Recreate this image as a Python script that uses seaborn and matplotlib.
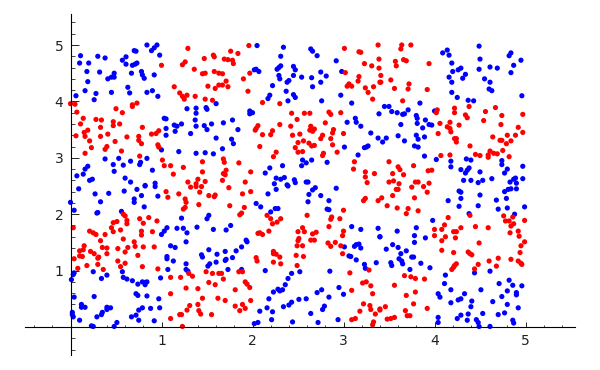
import matplotlib
matplotlib.use("Agg")
import matplotlib.pyplot as plt
from matplotlib.ticker import MultipleLocator
import pandas as pd
import seaborn as sns

# points, (x, y)
blue_pts = [
(.11,4.81),(.10,4.68),(.20,4.68),(.30,4.80),(.38,4.77),(.18,4.53),(.32,4.52),(.41,4.40),(.45,4.43),(.48,4.50),
(.48,4.43),(.19,4.35),(.16,4.19),(.28,4.14),(.06,4.10),(.26,4.03),(.45,4.16),(.57,4.73),(.61,4.79),(.61,4.66),
(.70,4.90),(.72,4.89),(.84,5.0),(.89,4.90),(.92,4.95),(.95,5.0),(.98,4.82),(.68,4.64),(.71,4.66),(.73,4.68),
(.67,4.50),(.78,4.53),(.79,4.47),(.81,4.41),(.92,4.47),(.63,4.25),(.65,4.15),(.84,4.16),(.90,4.19),(.96,4.09),
(1.28,3.87),(1.38,3.88),(1.38,3.79),(1.49,3.89),(1.50,3.86),(1.37,3.67),(1.38,3.56),(1.47,3.57),(1.50,3.50),(1.55,3.60),
(1.32,3.43),(1.60,3.96),(1.60,3.35),(1.03,3.70),(1.05,3.69),(1.05,3.52),(1.05,3.40),(1.14,3.58),(1.17,3.56),(1.15,3.47),
(1.22,3.60),(1.00,3.14),(1.19,3.11),(1.38,3.08),(1.48,3.09),(1.57,3.07),(.38,2.98),(.53,2.99),(.47,2.88),(.58,2.87),
(.66,2.94),(.77,2.92),(.76,2.88),(.84,2.99),(.48,2.76),(.90,2.78),(.19,2.85),(.16,2.80),(.14,2.71),(.07,2.68),
(.24,2.62),(.21,2.60),(.60,2.64),(.66,2.57),(.93,2.55),(.82,2.51),
(.09,2.45),(.27,2.36),(.42,2.37),(.33,2.22),(0.0,2.21),(.04,2.07),(.30,2.03),(.29,2.02),(.59,2.41),(.73,2.44),
(.82,2.50),(.93,2.49),(.96,2.32),(.78,2.33),(.70,2.27),(.70,2.21),(.81,2.13),(.56,2.05),(1.22,1.93),(1.50,1.92),
(1.52,1.98),(1.39,1.77),(1.57,1.73),(1.06,1.76),(1.03,1.70),(1.00,1.64),(1.17,1.75),(1.24,1.75),(1.28,1.67),(1.27,1.51),
(1.10,1.44),(1.15,1.41),(1.52,1.37),(1.44,1.28),(1.45,1.24),(1.61,1.29),(1.06,1.25),(1.06,1.21),(1.13,1.17),(1.07,1.02),
(1.27,1.12),(1.27,1.02),(1.29,.99),(1.53,1.12),(1.51,1.08),(1.60,1.15),(.04,.96),(.03,.93),(.01,.84),(.25,.98),
(.40,.92),(.34,.86),(.57,.98),(.58,.88),(.62,.85),(.68,.82),(.74,.76),(.79,.80),(.82,.79),(.84,.80),
(.82,.75),(.99,.87),(.04,.53),(.26,.54),(.72,.59),(.74,.56),(.84,.55),(.97,.50),(.12,.40),(.12,.35),
(.16,.35),(.40,.35),(.44,.34),(.40,.31),(.35,.26),(.34,.22),(.29,.18),(.02,.26),(.02,.22),(.03,.18),
(.10,.12),(.23,.02),(.25,.01),(.51,.08),(.48,.01),(.67,.18),(.72,.21),(.75,.30),(.79,.34),(.88,.33),
(.98,.34),(.75,.12),(.92,.11),
(2.05,4.99),(2.34,4.96),(2.31,4.80),(2.64,4.93),(2.66,4.89),(2.71,4.81),(2.92,4.72),(2.31,4.63),(2.29,4.60),(2.27,4.57),
(2.02,4.56),(2.04,4.57),(2.07,4.53),(2.45,4.62),(2.47,4.56),(2.45,4.46),(2.29,4.46),(2.30,4.40),(2.54,4.43),(2.40,4.37),
(2.38,4.34),(2.65,4.42),(2.75,4.52),(2.81,4.45),(2.75,4.34),(2.66,4.26),(2.98,4.53),(2.22,4.28),(2.37,4.18),(2.45,4.12),
(2.47,4.07),(2.19,4.11),(2.17,4.05),(2.39,4.01),(2.76,4.01),(2.97,4.11),(3.09,3.97),(1.97,3.83),(1.97,3.78),(2.0,3.80),
(1.78,3.67),(1.68,3.62),(1.84,3.50),(1.77,3.33),(1.79,3.25),(1.67,3.16),(3.04,3.63),(3.13,3.70),(3.14,3.63),(3.19,3.56),
(3.39,3.78),(3.30,3.44),(3.38,3.35),(3.01,3.19),(3.23,3.18),(3.27,3.21),(3.25,3.19),(3.16,3.05),(2.55,2.96),(2.59,2.91),
(2.65,2.96),(2.54,2.86),(2.82,2.92),(2.33,2.86),(2.19,2.82),(2.14,2.73),(2.26,2.64),(2.31,2.62),(2.35,2.65),(2.24,2.54),
(2.38,2.52),(2.46,2.61),(2.47,2.56),(2.59,2.57),(2.61,2.57),
(2.26,2.44),(2.17,2.36),(2.39,2.50),(2.69,2.47),(2.66,2.43),(2.62,2.35),(2.75,2.33),(2.61,2.22),(2.92,2.46),(2.84,2.24),
(2.82,2.09),(2.84,2.08),(2.04,2.19),(2.09,2.13),(2.20,2.04),(2.25,2.10),(2.28,2.10),(1.76,1.80),(1.71,1.72),(1.93,1.54),
(1.94,1.51),(1.88,1.42),(1.82,1.35),(1.78,1.23),(1.70,1.34),(1.71,1.20),(1.70,1.18),(1.73,1.02),(1.88,1.02),(2.14,1.0),
(2.52,.98),(2.43,.95),(2.39,.86),(2.36,.75),(2.33,.66),(2.28,.67),(2.30,.64),(2.23,.62),(2.18,.50),(2.85,.99),
(3.09,1.78),(3.19,1.73),(3.38,1.75),(3.40,1.60),(3.01,1.42),(3.12,1.43),(3.14,1.46),(3.17,1.47),(3.19,1.40),(3.06,1.26),
(3.08,1.25),(3.14,1.19),(3.23,1.11),(3.24,1.04),(3.36,1.14),(2.95,.70),(3.0,.58),(2.76,.66),(2.71,.61),(2.84,.53),
(2.51,.49),(2.59,.50),(2.43,.44),(2.40,.39),(2.34,.36),(2.16,.34),(2.22,.27),(2.08,.28),(2.21,.13),(2.06,.08),
(2.02,.06),(2.44,.09),(2.64,.24),(2.77,.31),(2.79,.37),(2.72,.08),(2.94,.13),
(4.49,4.98),(4.09,4.86),(4.14,4.91),(4.16,4.82),(4.50,4.75),(4.84,4.86),(4.82,4.81),(4.95,4.73),(4.19,4.68),(4.87,4.64),
(4.49,4.57),(4.61,4.61),(4.69,4.59),(4.84,4.51),(4.29,4.59),(4.26,4.56),(4.20,4.53),(4.34,4.48),(4.31,4.41),(4.16,4.43),
(4.19,4.34),(4.55,4.40),(4.61,4.34),(4.60,4.22),(4.63,4.19),(4.19,4.16),(4.25,4.07),(4.37,4.02),(4.43,4.01),(4.96,4.10),
(3.84,3.97),(3.45,3.91),(3.50,3.91),(3.53,3.82),(3.59,3.80),(3.65,3.77),(3.67,3.78),(3.71,3.85),(4.0,3.83),(3.80,3.75),
(3.81,3.70),(3.81,3.61),(3.90,3.67),(3.94,3.59),(3.97,3.58),(3.87,3.53),(3.63,3.59),(3.60,3.39),(3.47,3.35),(3.43,3.28),
(3.67,3.30),(3.80,3.40),(3.82,3.33),(3.89,3.37),(3.78,3.21),(3.82,3.19),(3.89,3.03),(4.02,2.97),(4.18,2.94),(4.18,2.84),
(4.35,2.98),(4.40,2.96),(4.74,2.95),(4.74,2.88),(4.97,2.85),(4.38,2.82),(4.36,2.78),(4.34,2.73),(4.29,2.79),(4.50,2.75),
(4.80,2.80),(4.77,2.73),(4.63,2.63),(4.97,2.63),(4.89,2.64),(4.87,2.62),(4.83,2.57),(4.53,2.60),(4.48,2.56),(4.40,2.60),
(4.32,2.60),(4.90,2.55),
(4.27,2.41),(4.29,2.39),(4.29,2.28),(4.15,2.24),(4.27,2.14),(4.50,2.34),(4.48,2.15),(4.38,2.01),(4.68,2.25),(4.77,2.40),
(4.81,2.44),(4.84,2.45),(4.90,2.45),(4.79,2.28),(4.70,2.09),(4.80,2.11),(4.99,2.13),(4.88,2.0),(3.98,1.89),(3.80,1.76),
(3.59,1.70),(3.78,1.62),(3.90,1.58),(3.40,1.60),(3.78,1.50),(3.54,1.46),(3.60,1.41),(3.47,1.38),(3.69,1.35),(3.63,1.30),
(3.61,1.21),(3.64,1.17),(3.65,1.12),(3.52,1.14),(3.53,1.09),(3.75,1.24),(3.77,1.24),(3.85,1.13),(3.95,1.05),(3.73,1.02),
(4.12,.92),(4.44,.96),(4.61,.99),(4.11,.77),(4.18,.66),(4.51,.66),(4.04,.59),(4.06,.53),(4.33,.59),(4.71,.77),
(4.82,.83),(4.86,.74),(4.96,.73),(4.80,.64),(4.90,.61),(4.90,.57),(4.74,.54),(4.64,.45),(4.80,.40),(4.41,.46),
(4.40,.36),(4.18,.43),(4.26,.48),(4.29,.50),(4.92,.34),(4.53,.24),(4.37,.23),(4.70,.22),(4.77,.25),(4.29,.21),
(4.25,.15),(4.36,.12),(4.04,.17),(4.04,.08),(4.46,.13),(4.48,.08),(4.49,.01),(4.61,.01),(4.86,.12),(4.87,.07),
]

red_pts = [
(1.29,4.94),(1.26,4.70),(1.23,4.65),(1.36,4.57),(1.47,4.76),(1.57,4.82),(1.58,4.79),(1.00,4.64),(1.45,4.49),(1.48,4.50),
(1.58,4.53),(1.63,4.50),(1.14,4.26),(1.20,4.15),(1.23,4.09),(1.25,4.04),(1.28,4.11),(1.37,4.09),(1.48,4.04),(1.51,4.27),
(1.59,4.23),(1.63,4.29),(1.56,4.02),(0.0,3.96),(.05,3.95),(.07,3.81),(.14,3.70),(.11,3.60),(.28,3.68),(.34,3.67),
(.33,3.54),(.19,3.49),(.15,3.45),(.16,3.38),(.06,3.39),(.21,3.30),(.23,3.18),(.33,3.38),(.41,3.42),(.47,3.64),
(.47,3.57),(.54,3.60),(.50,3.87),(.57,3.80),(.68,3.94),(.68,3.91),(.73,3.97),(.79,3.54),(.62,3.37),(.75,3.38),
(.75,3.31),(.78,3.25),(.49,3.29),(.40,3.20),(.38,3.15),(.56,3.12),(.16,3.08),(.76,3.03),(.89,3.42),(.94,3.43),
(.97,3.48),(.96,3.23),(.97,3.19),(1.01,2.96),(1.03,2.86),(1.10,2.86),(1.24,2.83),(1.13,2.71),(1.45,2.93),(1.45,2.75),
(1.40,2.62),(1.29,2.57),(1.48,2.58),(1.38,2.54),
(1.05,2.40),(1.07,2.30),(1.19,2.36),(1.26,2.27),(1.27,2.21),(1.26,2.12),(1.24,2.09),(1.41,2.17),(1.32,2.48),(1.38,2.49),
(1.44,2.49),(1.42,2.39),(1.52,2.33),(1.58,2.31),(1.59,2.34),(.03,1.76),(.21,1.70),(.25,1.67),(.28,1.64),(.38,1.64),
(.33,1.53),(.35,1.41),(.40,1.40),(.40,1.30),(.15,1.44),(.14,1.37),(.10,1.35),(.22,1.34),(.26,1.30),(.31,1.24),
(.30,1.22),(.10,1.26),(.13,1.25),(.04,1.21),(.18,1.09),(.30,1.11),(.36,1.02),(.08,1.04),(.45,1.76),(.47,1.85),
(.51,1.87),(.47,1.69),(.55,1.72),(.58,2.00),(.60,1.97),(.62,1.89),(.62,1.83),(.76,1.92),(.80,1.84),(.86,1.94),
(.95,1.88),(.78,1.70),(.78,1.63),(.90,1.69),(.58,1.56),(.70,1.51),(.71,1.43),(.63,1.41),(.52,1.39),(.60,1.33),
(.80,1.42),(.92,1.42),(.74,1.27),(.52,1.17),(.60,1.13),(.55,1.07),(.79,1.07),(.96,1.03),(1.10,.88),(1.21,.88),
(1.30,.95),(1.34,.90),(1.49,.98),(1.56,.95),(1.63,.95),(1.52,.79),(1.59,.75),(1.27,.69),(1.40,.68),(1.10,.59),
(1.45,.51),(1.62,.51),(1.31,.38),(1.40,.40),(1.28,.30),(1.22,.22),(1.20,.22),(1.10,.15),(1.23,.01),(1.41,.29),
(1.43,.23),(1.55,.22),
(1.96,4.99),(1.76,4.89),(1.84,4.85),(1.69,4.75),(1.73,4.74),(1.78,4.73),(1.79,4.67),(1.67,4.49),(1.71,4.36),(1.67,4.29),
(1.73,4.26),(1.97,4.50),(1.90,4.40),(1.95,4.18),(2.11,3.98),(2.30,3.96),(3.01,4.94),(3.38,5.0),(3.17,4.88),(3.19,4.87),
(3.23,4.67),(3.31,4.63),(3.39,4.75),(3.39,4.59),(3.02,4.51),(3.17,4.44),(3.16,4.36),(3.06,4.31),(3.04,4.27),(3.09,4.27),
(3.24,4.24),(3.33,4.26),(3.40,4.34),(3.27,4.16),(3.32,4.04),(2.43,3.79),(2.57,3.79),(2.63,3.79),(2.49,3.68),(2.84,3.81),
(2.86,3.77),(2.97,3.80),(2.80,3.62),(2.30,3.59),(2.42,3.56),(2.06,3.57),(2.04,3.52),(2.03,3.49),(2.22,3.48),(2.20,3.41),
(2.11,3.41),(2.44,3.40),(2.52,3.42),(2.64,3.56),(2.63,3.49),(2.66,3.47),(2.68,3.51),(2.89,3.50),(2.88,3.44),(2.77,3.40),
(2.75,3.34),(2.86,3.34),(3.0,3.43),(2.50,3.27),(2.56,3.30),(2.62,3.26),(2.65,3.21),(2.68,3.22),(2.88,3.23),(2.47,3.18),
(2.50,3.10),(2.55,3.11),(2.08,3.20),(2.26,3.10),(2.23,3.02),(2.78,3.08),(2.77,3.04),(2.93,3.10),(1.68,2.98),(1.69,2.92),
(1.85,2.91),(3.12,2.93),(3.11,2.80),(1.98,2.75),(1.71,2.78),(1.68,2.72),(1.70,2.70),(1.67,2.60),(1.92,2.57),(3.24,2.75),
(3.34,2.72),(3.24,2.66),(3.26,2.56),
(1.74,2.47),(1.89,2.36),(1.98,2.40),(1.75,2.15),(1.91,2.12),(1.88,2.02),(1.86,1.99),(2.16,1.98),(2.20,1.92),(2.31,1.92),
(2.27,1.86),(2.22,1.83),(2.18,1.70),(2.06,1.66),(2.08,1.67),(2.11,1.64),(2.60,1.98),(2.55,1.76),(2.57,1.69),(2.50,1.69),
(2.70,1.68),(2.66,1.65),(2.51,1.57),(2.50,1.53),(2.64,1.54),(2.68,1.54),(2.49,1.44),(2.55,1.44),(2.48,1.27),(2.56,1.25),
(2.49,1.09),(2.23,1.34),(2.23,1.30),(2.26,1.29),(2.30,1.24),(2.23,1.15),(2.31,1.12),(2.04,1.23),(2.05,1.17),(1.85,.98),
(1.89,.98),(1.66,.95),(1.68,.85),(1.92,.80),(1.94,.76),(1.97,.70),(1.81,.66),(1.70,.47),(1.98,.47),(1.81,.37),
(1.89,.40),(1.92,.33),(1.86,.29),(3.24,2.28),(3.22,2.24),(3.38,2.24),(3.0,2.07),(2.87,1.95),(2.86,1.91),(2.96,1.92),
(2.84,1.78),(3.0,1.70),(2.99,1.62),(2.83,1.49),(2.86,1.43),(2.91,1.50),(2.97,1.44),(2.99,1.30),(3.07,.96),(3.28,1.01),
(3.21,.78),(3.25,.80),(3.30,.73),(3.09,.65),(3.32,.59),(3.22,.41),(3.29,.38),(3.30,.31),(3.18,.28),(3.35,.23),
(3.13,.15),(3.09,.13),(3.33,.09),(3.32,.04),(3.40,.32),
(3.74,5.0),(3.64,5.0),(3.63,4.93),(3.57,4.71),(3.58,4.63),(3.66,4.74),(3.69,4.72),(3.94,4.67),(3.52,4.38),(3.41,4.46),
(3.41,4.34),(3.72,4.31),(3.71,4.22),(3.56,4.23),(3.92,4.21),(3.65,4.01),(4.03,3.85),(4.02,3.80),(4.22,3.88),(4.22,3.80),
(4.38,3.91),(4.34,3.76),(4.36,3.71),(4.56,3.82),(4.67,3.89),(4.54,3.66),(4.74,3.75),(4.97,3.77),(4.73,3.59),(4.92,3.54),
(4.97,3.45),(4.06,3.61),(4.17,3.63),(4.14,3.55),(4.17,3.52),(4.18,3.46),(4.27,3.58),(4.04,3.43),(4.22,3.34),(4.24,3.34),
(4.24,3.28),(4.64,3.37),(4.72,3.31),(4.74,3.31),(4.80,3.40),(4.89,3.40),(4.84,3.30),(4.79,3.25),(4.39,3.21),(4.75,3.13),
(4.61,3.12),(4.65,3.08),(4.69,3.07),(4.59,3.05),(4.59,3.01),(4.45,3.06),(4.50,3.04),(4.82,3.02),(4.17,3.05),(4.07,3.04),
(3.50,2.93),(3.77,2.86),(3.60,2.84),(3.62,2.79),(3.66,2.70),(3.54,2.72),(3.93,2.77),(3.97,2.78),(3.55,2.59),(3.50,2.57),
(3.61,2.54),(3.79,2.57),(3.82,2.57),(3.94,2.55),
(3.58,2.44),(3.60,2.44),(3.75,2.48),(3.88,2.49),(3.92,2.39),(3.42,2.29),(3.54,2.33),(3.78,2.29),(3.48,2.15),(3.59,2.11),
(3.71,2.10),(3.69,2.01),(3.82,2.06),(4.15,1.94),(4.39,1.98),(4.11,1.81),(4.0,1.73),(4.08,1.73),(4.0,1.62),(4.12,1.60),
(4.08,1.53),(4.21,1.69),(4.24,1.69),(4.29,1.76),(4.23,1.58),(4.45,1.78),(4.59,1.76),(4.49,1.49),(4.08,1.36),(4.21,1.32),
(4.37,1.33),(4.39,1.30),(4.41,1.28),(4.70,1.22),(4.60,1.17),(4.48,1.11),(4.68,1.08),(4.44,1.03),(4.24,1.12),(4.22,1.09),
(4.21,1.06),(4.19,1.02),(4.76,1.97),(4.86,1.95),(4.78,1.88),(4.82,1.88),(4.87,1.83),(4.84,1.79),(4.99,1.89),(4.83,1.67),
(4.92,1.70),(4.93,1.61),(4.99,1.51),(4.95,1.44),(4.94,1.32),(4.84,1.20),(4.92,1.17),(4.95,1.13),(4.96,1.11),(3.67,.91),
(3.74,.89),(3.79,.86),(3.89,.85),(3.56,.74),(3.69,.56),(3.79,.62),(3.77,.41),(3.92,.33),(3.46,.36),(3.40,.30),
(3.68,.29),(3.70,.20),(3.73,.20),(3.48,.14),(3.52,.15),(3.56,.17),
]

x_ticks = [1, 2, 3, 4, 5]
y_ticks = [1, 2, 3, 4, 5]

blue_df = pd.DataFrame(blue_pts, columns=["x", "y"])
blue_df["group"] = "blue"
red_df = pd.DataFrame(red_pts, columns=["x", "y"])
red_df["group"] = "red"
df = pd.concat([blue_df, red_df], ignore_index=True)

sns.set_style("white")

fig = plt.figure(figsize=(6, 3.7), dpi=100)
# axes box in pixels: x 25..575, y 14..355
ax = fig.add_axes([25 / 600, 15 / 370, 550 / 600, 341 / 370])

sns.scatterplot(data=df, x="x", y="y", hue="group",
                palette={"blue": "#0000ff", "red": "#ff0000"},
                s=14, linewidth=0, legend=False, clip_on=False, ax=ax)

ax.set_xlim(-45.5 / 91, 504.5 / 91)
ax.set_ylim(-28 / 56.4, 313 / 56.4)
ax.set_xlabel("")
ax.set_ylabel("")
ax.set_xticks(x_ticks)
ax.set_yticks(y_ticks)
ax.xaxis.set_minor_locator(MultipleLocator(0.2))
ax.yaxis.set_minor_locator(MultipleLocator(0.2))

ax.spines["left"].set_position(("data", 0))
ax.spines["bottom"].set_position(("data", 0))
ax.spines["top"].set_visible(False)
ax.spines["right"].set_visible(False)
ax.spines["left"].set_color("black")
ax.spines["bottom"].set_color("black")
ax.spines["left"].set_linewidth(0.8)
ax.spines["bottom"].set_linewidth(0.8)
ax.set_facecolor("none")

ax.tick_params(axis="x", which="major", direction="in", bottom=True, length=3.6, width=0.7, pad=5, labelsize=10, colors="#222222")
ax.tick_params(axis="x", which="minor", direction="in", bottom=True, length=1.8, width=0.6)
ax.tick_params(axis="y", which="major", direction="in", left=True, length=5.8, width=0.7, pad=5, labelsize=10, colors="#222222")
ax.tick_params(axis="y", which="minor", direction="in", left=True, length=2.9, width=0.6)

fig.savefig("out.png", dpi=100)
